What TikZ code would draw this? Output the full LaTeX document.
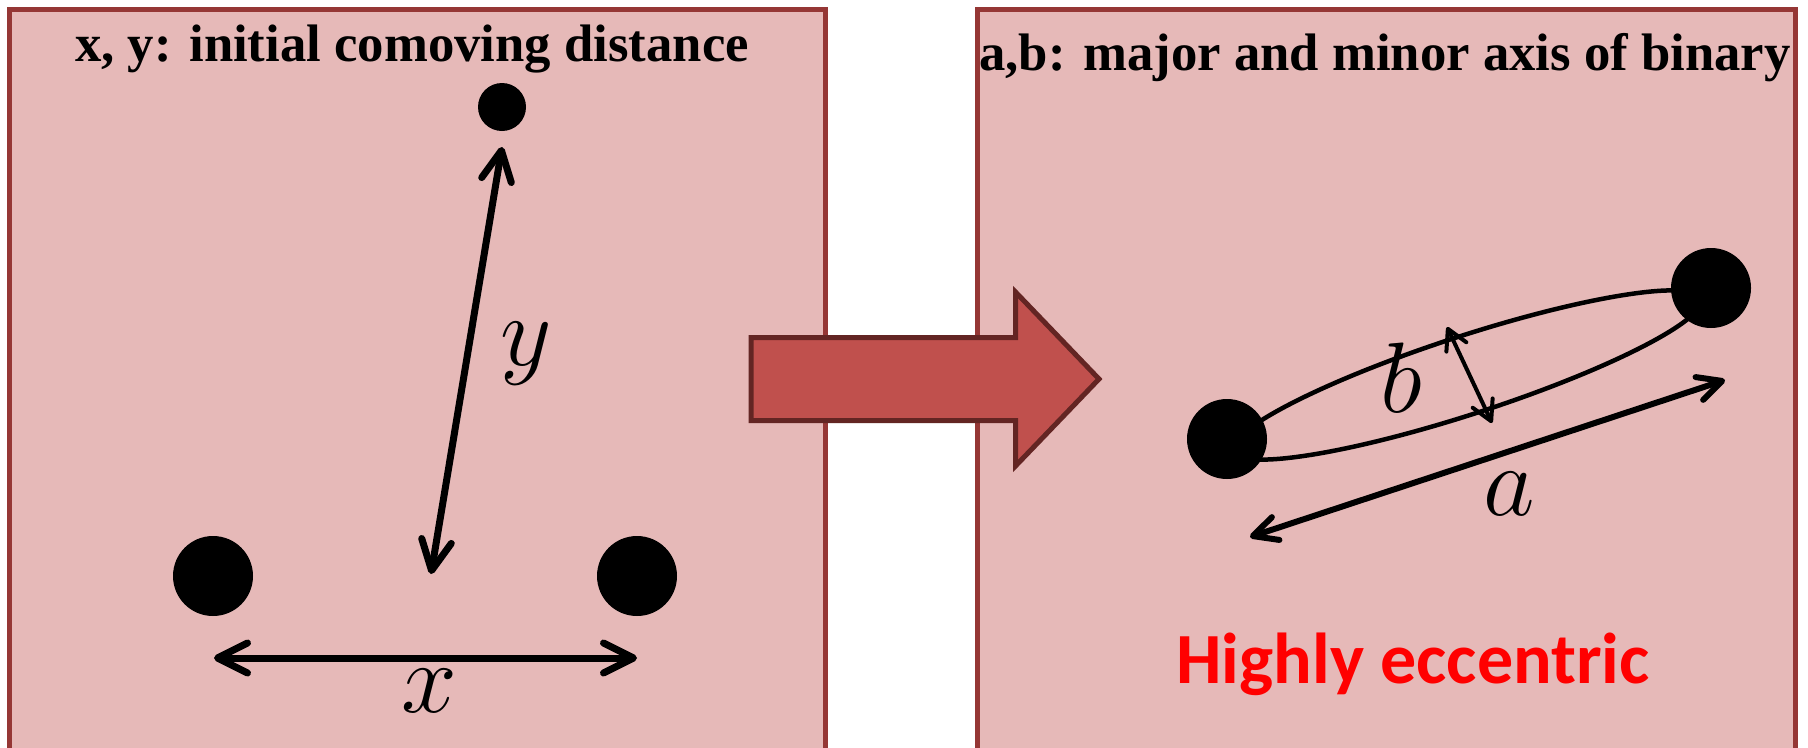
\RequirePackage{fix-cm}
\documentclass[tikz,border=0pt]{standalone}
\usepackage{fontspec}
\setmainfont{Liberation Serif}
\newfontfamily\calibri{Carlito}
\usetikzlibrary{arrows.meta}

\definecolor{panelfill}{HTML}{E6B9B8}
\definecolor{panelline}{HTML}{953735}
\definecolor{arrowfill}{HTML}{C0504D}
\definecolor{arrowline}{HTML}{632523}

\begin{document}
\begin{tikzpicture}[x=0.2mm, y=-0.2mm,
    panel/.style={fill=panelfill, draw=panelline, line width=1mm},
    mass/.style={circle, fill=black, inner sep=0pt, minimum size=#1},
    title/.style={anchor=base, font=\fontsize{30}{32}\selectfont\bfseries},
    lbl/.style={inner sep=0pt, font=\fontsize{57}{60}\selectfont},
    dist/.style={line width=1.4mm, {Straight Barb[length=6mm, width=6mm, round]}-{Straight Barb[length=6mm, width=6mm, round]}},
    axisa/.style={line width=1.2mm, {Straight Barb[length=4.8mm, width=4.8mm, round]}-{Straight Barb[length=4.8mm, width=4.8mm, round]}},
    axisb/.style={line width=0.8mm, {Straight Barb[length=4mm, width=4.4mm, round]}-{Straight Barb[length=4mm, width=4.4mm, round]}}]
  \clip (0,0) rectangle (1808,747);

  % the two panels
  \draw[panel] (9.5,9) rectangle (825.5,760);
  \draw[panel] (977,9) rectangle (1795,760);

  % initial positions
  \node[title] (ltitle) at (412,61) {x, y: initial comoving distance};
  \node[mass=9.6mm] (top) at (502,107) {};
  \node[mass=16mm] (left) at (213,576) {};
  \node[mass=16mm] (right) at (637,576) {};

  \coordinate (ytop) at (502,147);
  \coordinate (ybot) at (431,574);
  \coordinate (xl) at (214,658);
  \coordinate (xr) at (637,658);
  \draw[dist] (ytop) -- (ybot);
  \draw[dist] (xl) -- (xr);
  \node[lbl] (ylbl) at (526,354) {$y$};
  \node[lbl] (xlbl) at (429,691) {$x$};

  % big arrow between the panels
  \draw[fill=arrowfill, draw=arrowline, line width=1mm, line join=miter]
    (751,337.5) -- (1015.5,337.5) -- (1015.5,292) -- (1099,379)
    -- (1015.5,466) -- (1015.5,420.5) -- (751,420.5) -- cycle;

  % the binary
  \node[title] (rtitle) at (1385,70) {a,b: major and minor axis of binary};
  \draw[line width=0.9mm, rotate around={18:(1467,375)}]
    (1467,375) ellipse [x radius=246, y radius=39];
  \node[mass=16mm] (m1) at (1227,439) {};
  \node[mass=16mm] (m2) at (1711,288) {};

  \coordinate (bt) at (1447,327);
  \coordinate (bb) at (1492,423);
  \coordinate (al) at (1250,537);
  \coordinate (ar) at (1725,380);
  \draw[axisb] (bt) -- (bb);
  \draw[axisa] (al) -- (ar);
  \node[lbl] (blbl) at (1401,378) {$b$};
  \node[lbl] (albl) at (1509,494) {$a$};

  \node[anchor=base, text=red, font=\calibri\bfseries\fontsize{41}{44}\selectfont] (ecc) at (1413,683) {Highly eccentric};
\end{tikzpicture}
\end{document}
